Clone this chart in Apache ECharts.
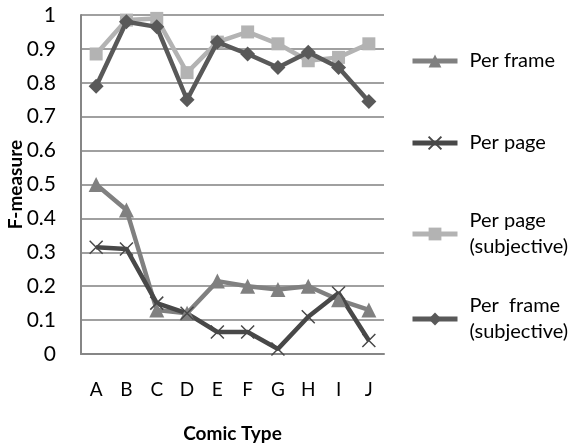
<!DOCTYPE html>
<html>
<head>
<meta charset="utf-8">
<script src="https://cdn.jsdelivr.net/npm/echarts@6/dist/echarts.min.js"></script>
<style>
  html, body { margin: 0; padding: 0; background: #fff; }
  #chart { width: 573px; height: 445px; }
</style>
</head>
<body>
<div id="chart"></div>
<script>
// Comic types along the x axis
const categories = ['A', 'B', 'C', 'D', 'E', 'F', 'G', 'H', 'I', 'J'];

// F-measure per comic type
const perFrame = [0.50, 0.425, 0.13, 0.12, 0.215, 0.20, 0.19, 0.20, 0.16, 0.13];
const perPage = [0.315, 0.31, 0.15, 0.12, 0.065, 0.065, 0.015, 0.11, 0.18, 0.04];
const perPageSubjective = [0.885, 0.985, 0.99, 0.83, 0.92, 0.95, 0.915, 0.865, 0.875, 0.915];
const perFrameSubjective = [0.79, 0.98, 0.965, 0.75, 0.92, 0.885, 0.845, 0.89, 0.845, 0.745];

// Series names as shown in the legend
const seriesNames = ['Per frame', 'Per page', 'Per page\n(subjective)', 'Per  frame\n(subjective)'];

const FONT = 'Lato';
const crossPath = 'path://M0,0L10,10M10,0L0,10';

const colors = ['#808080', '#484848', '#b3b3b3', '#595959'];
const symbols = ['triangle', crossPath, 'rect', 'diamond'];
const symbolSizes = [15, 13, 13, 15];
const values = [perFrame, perPage, perPageSubjective, perFrameSubjective];

const series = seriesNames.map((name, i) => ({
  name,
  type: 'line',
  data: values[i],
  symbol: symbols[i],
  symbolSize: symbolSizes[i],
  z: i === 2 ? 2 : 3,
  lineStyle: { color: colors[i], width: 4.5 },
  itemStyle: i === 1
    ? { color: colors[i], borderColor: colors[i], borderWidth: 1.5 }
    : { color: colors[i], borderWidth: 0 },
  emphasis: { disabled: true }
}));

// One legend block per series so each entry sits at its own height
const legendTops = [43, 125, 203, 288];
const legends = seriesNames.map((name, i) => ({
  data: [name],
  orient: 'vertical',
  left: 405,
  top: legendTops[i],
  itemWidth: 45,
  itemHeight: 16,
  selectedMode: false,
  lineStyle: { width: 5 },
  textStyle: {
    fontFamily: FONT, fontSize: 20, color: '#000',
    lineHeight: 26, padding: [0, 0, 0, 7]
  }
}));

const chart = echarts.init(document.getElementById('chart'));
chart.setOption({
  animation: false,
  backgroundColor: '#fff',
  legend: legends,
  grid: {
    left: 81, right: 189, top: 15, bottom: 91,
    containLabel: false, outerBoundsMode: 'none'
  },
  xAxis: {
    type: 'category',
    data: categories,
    boundaryGap: true,
    name: 'Comic Type',
    nameLocation: 'middle',
    nameGap: 70,
    nameMoveOverlap: false,
    nameTextStyle: { fontFamily: FONT, fontSize: 19, fontWeight: 'bold', color: '#000' },
    axisLine: { show: true, lineStyle: { color: '#868686', width: 2 } },
    axisTick: { show: false },
    axisLabel: { fontFamily: FONT, fontSize: 19, color: '#000', margin: 26 }
  },
  yAxis: {
    type: 'value',
    min: 0,
    max: 1,
    interval: 0.1,
    name: 'F-measure',
    nameLocation: 'middle',
    nameGap: 56,
    nameMoveOverlap: false,
    nameTextStyle: { fontFamily: FONT, fontSize: 19, fontWeight: 'bold', color: '#000' },
    axisLine: { show: true, lineStyle: { color: '#868686', width: 2 } },
    axisTick: { show: false },
    splitLine: { show: true, lineStyle: { color: '#a0a0a0', width: 2 } },
    axisLabel: {
      fontFamily: FONT, fontSize: 21, color: '#000', margin: 25,
      formatter: v => String(+v.toFixed(1))
    }
  },
  series
});
</script>
</body>
</html>
